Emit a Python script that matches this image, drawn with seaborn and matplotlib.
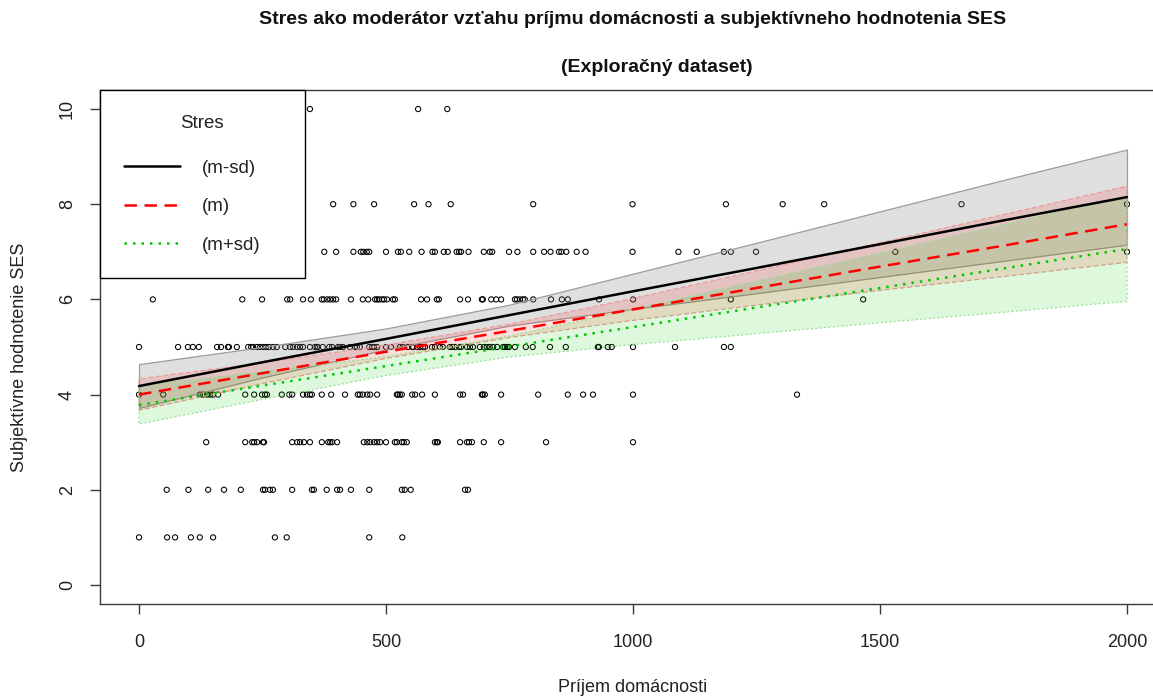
import matplotlib
matplotlib.use("Agg")
import matplotlib.pyplot as plt
import numpy as np
import pandas as pd
import seaborn as sns
from matplotlib.lines import Line2D

# --- observed households: income at each SES rating -------------------------
inc_ses10 = [346, 565, 624]
inc_ses8 = [393, 434, 476, 557, 586, 631, 798, 999, 1188, 1303, 1387, 1665, 2000]
inc_ses7 = [375, 399, 434, 449, 454, 461, 466, 500, 524, 530, 547, 572, 594, 599,
            617, 625, 643, 648, 652, 667, 698, 710, 715, 749, 766, 798, 820, 833,
            850, 855, 865, 886, 904, 999, 1092, 1129, 1184, 1198, 1249, 1531, 2000]
inc_ses6 = [28, 209, 249, 300, 306, 332, 348, 370, 374, 381, 387, 393, 399, 429,
            453, 464, 478, 482, 486, 492, 496, 502, 514, 518, 571, 583, 603, 607,
            650, 666, 694, 696, 713, 723, 733, 761, 765, 771, 777, 781, 798, 834,
            856, 868, 931, 1000, 1198, 1466]
inc_ses5 = [0, 79, 99, 109, 121, 158, 166, 180, 182, 198, 221, 227, 231, 239, 245,
            251, 257, 263, 271, 279, 296, 306, 312, 320, 326, 332, 346, 356, 360,
            362, 372, 385, 391, 403, 407, 413, 427, 437, 441, 447, 466, 472, 476,
            482, 500, 510, 528, 534, 544, 553, 555, 563, 569, 575, 579, 593, 599,
            609, 615, 629, 634, 640, 648, 652, 664, 670, 676, 690, 698, 704, 710,
            717, 725, 737, 741, 745, 749, 761, 783, 797, 832, 864, 929, 931, 949,
            957, 1000, 1085, 1184, 1198]
inc_ses4 = [0, 49, 123, 130, 138, 144, 150, 160, 215, 233, 249, 255, 259, 289, 304,
            310, 332, 340, 346, 350, 370, 389, 417, 443, 447, 453, 462, 468, 482,
            522, 524, 528, 532, 553, 559, 573, 599, 650, 656, 694, 696, 700, 733,
            808, 868, 899, 919, 1000, 1332]
inc_ses3 = [136, 215, 229, 233, 239, 251, 253, 310, 320, 326, 334, 346, 370, 383,
            387, 391, 401, 455, 462, 468, 476, 482, 488, 500, 518, 522, 532, 536,
            542, 599, 603, 605, 650, 664, 668, 674, 698, 733, 824, 1000]
inc_ses2 = [56, 100, 140, 172, 206, 251, 255, 265, 271, 310, 350, 354, 380, 401,
            407, 429, 466, 532, 538, 550, 660, 666]
inc_ses1 = [0, 57, 73, 105, 123, 150, 275, 299, 466, 533]

# --- predicted SES at three stress levels, with confidence limits ------------
income_grid = [0, 250, 500, 750, 1000, 1250, 1500, 1750, 2000]

fit_low = [4.18, 4.68, 5.17, 5.67, 6.17, 6.66, 7.16, 7.66, 8.15]
lwr_low = [3.72, 4.36, 4.95, 5.45, 5.80, 6.13, 6.47, 6.81, 7.15]
upr_low = [4.64, 5.00, 5.39, 5.89, 6.54, 7.19, 7.85, 8.51, 9.15]

fit_mid = [4.00, 4.45, 4.90, 5.34, 5.79, 6.24, 6.69, 7.13, 7.58]
lwr_mid = [3.67, 4.23, 4.76, 5.20, 5.56, 5.88, 6.19, 6.48, 6.78]
upr_mid = [4.33, 4.67, 5.04, 5.48, 6.02, 6.60, 7.19, 7.78, 8.38]

fit_high = [3.78, 4.19, 4.60, 5.01, 5.42, 5.83, 6.24, 6.65, 7.06]
lwr_high = [3.38, 3.90, 4.40, 4.79, 5.05, 5.28, 5.51, 5.73, 5.96]
upr_high = [4.18, 4.48, 4.80, 5.23, 5.79, 6.38, 6.97, 7.57, 8.16]

stress_labels = ["(m-sd)", "(m)", "(m+sd)"]
x_ticks = [0, 500, 1000, 1500, 2000]
y_ticks = [0, 2, 4, 6, 8, 10]

title = "Stres ako moderátor vzťahu príjmu domácnosti a subjektívneho hodnotenia SES"
subtitle = "(Exploračný dataset)"
x_label = "Príjem domácnosti"
y_label = "Subjektívne hodnotenie SES"

# --- assemble tables ----------------------------------------------------------
levels = {10: inc_ses10, 8: inc_ses8, 7: inc_ses7, 6: inc_ses6, 5: inc_ses5,
          4: inc_ses4, 3: inc_ses3, 2: inc_ses2, 1: inc_ses1}
points = pd.DataFrame(
    [(inc, ses) for ses, incs in levels.items() for inc in incs],
    columns=["income", "ses"],
)

bands = [
    (fit_low, lwr_low, upr_low),
    (fit_mid, lwr_mid, upr_mid),
    (fit_high, lwr_high, upr_high),
]
line_colors = ["black", "#ff0000", "#00c800"]
line_styles = ["-", (0, (5.0, 3.0)), (0, (1.0, 2.4))]
band_faces = [(0.5, 0.5, 0.5, 0.25), (1.0, 0.0, 0.0, 0.13), (0.0, 0.8, 0.0, 0.13)]
band_edges = ["#9c9c9c", "#f09a9a", "#8fe08f"]
band_styles = ["-", (0, (4, 2)), (0, (1.5, 2))]

# --- figure --------------------------------------------------------------------
sns.set_style("white")
plt.rcParams["font.family"] = ["Liberation Sans", "DejaVu Sans"]

W, H = 1153, 697
fig = plt.figure(figsize=(W / 100, H / 100), dpi=100)
left_px, right_px, top_px, bottom_px = 99.5, 1166.5, 90, 604
ax = fig.add_axes([left_px / W, (H - bottom_px) / H,
                   (right_px - left_px) / W, (bottom_px - top_px) / H])

sns.scatterplot(data=points, x="income", y="ses", ax=ax, marker="o", s=14,
                facecolors="none", edgecolor="black", linewidth=0.75,
                zorder=2, legend=False)

for (fit, lo, hi), face, edge, bst in zip(bands, band_faces, band_edges, band_styles):
    ax.fill_between(income_grid, lo, hi, facecolor=face, edgecolor=edge,
                    linewidth=0.9, linestyle=bst, zorder=3)

for (fit, lo, hi), lab, col, ls in zip(bands, stress_labels, line_colors, line_styles):
    sns.lineplot(x=income_grid, y=fit, ax=ax, color=col, linewidth=1.8,
                 linestyle=ls, errorbar=None, label=lab, zorder=5)

ax.set_xlim(-80, 2080)
ax.set_ylim(-0.4, 10.4)
ax.set_xticks(x_ticks)
ax.set_yticks(y_ticks)

for sp in ax.spines.values():
    sp.set_visible(True)
    sp.set_color("#3a3a3a")
    sp.set_linewidth(1.0)

ax.tick_params(axis="both", which="major", bottom=True, left=True,
               direction="out", length=7, width=1, color="#3a3a3a",
               labelsize=13, labelcolor="#222222")
ax.tick_params(axis="x", pad=14.5)
ax.tick_params(axis="y", pad=10)
for lab in ax.get_yticklabels():
    lab.set_rotation(90)
    lab.set_va("center")
    lab.set_ha("right")

ax.set_xlabel(x_label, fontsize=13, color="#222222")
ax.set_ylabel(y_label, fontsize=13, color="#222222")
ax.xaxis.label.set_va("center")
ax.yaxis.label.set_va("center")
ax.xaxis.set_label_coords(0.5, (bottom_px - 688) / (bottom_px - top_px))
ax.yaxis.set_label_coords((20 - left_px) / (right_px - left_px),
                          (bottom_px - 357) / (bottom_px - top_px))

handles = [Line2D([], [], color=c, linewidth=1.8, linestyle=s)
           for c, s in zip(line_colors, line_styles)]
leg = ax.legend(handles, stress_labels, title="Stres", loc="upper left",
                bbox_to_anchor=(0, 0, 205 / (right_px - left_px), 1),
                mode="expand", borderaxespad=0, frameon=True, fancybox=False,
                framealpha=1, edgecolor="black", fontsize=13.5, title_fontsize=13.5,
                handlelength=2.95, handletextpad=1.2, borderpad=1.32,
                labelspacing=1.13)
# a little more room between the legend title and its entries
leg._legend_box.sep = leg._legend_box.sep + 5
leg.get_frame().set_linewidth(1.0)
leg.set_zorder(10)
for t in leg.get_texts():
    t.set_color("#222222")
leg.get_title().set_color("#222222")

fig.text((left_px + right_px) / 2 / W, 1 - 20 / H, title, ha="center", va="center",
         fontsize=14, fontweight="bold", color="#111111")
fig.text(657 / W, 1 - 68 / H, subtitle, ha="center", va="center",
         fontsize=14, fontweight="bold", color="#111111")

fig.savefig("out.png", dpi=100)
